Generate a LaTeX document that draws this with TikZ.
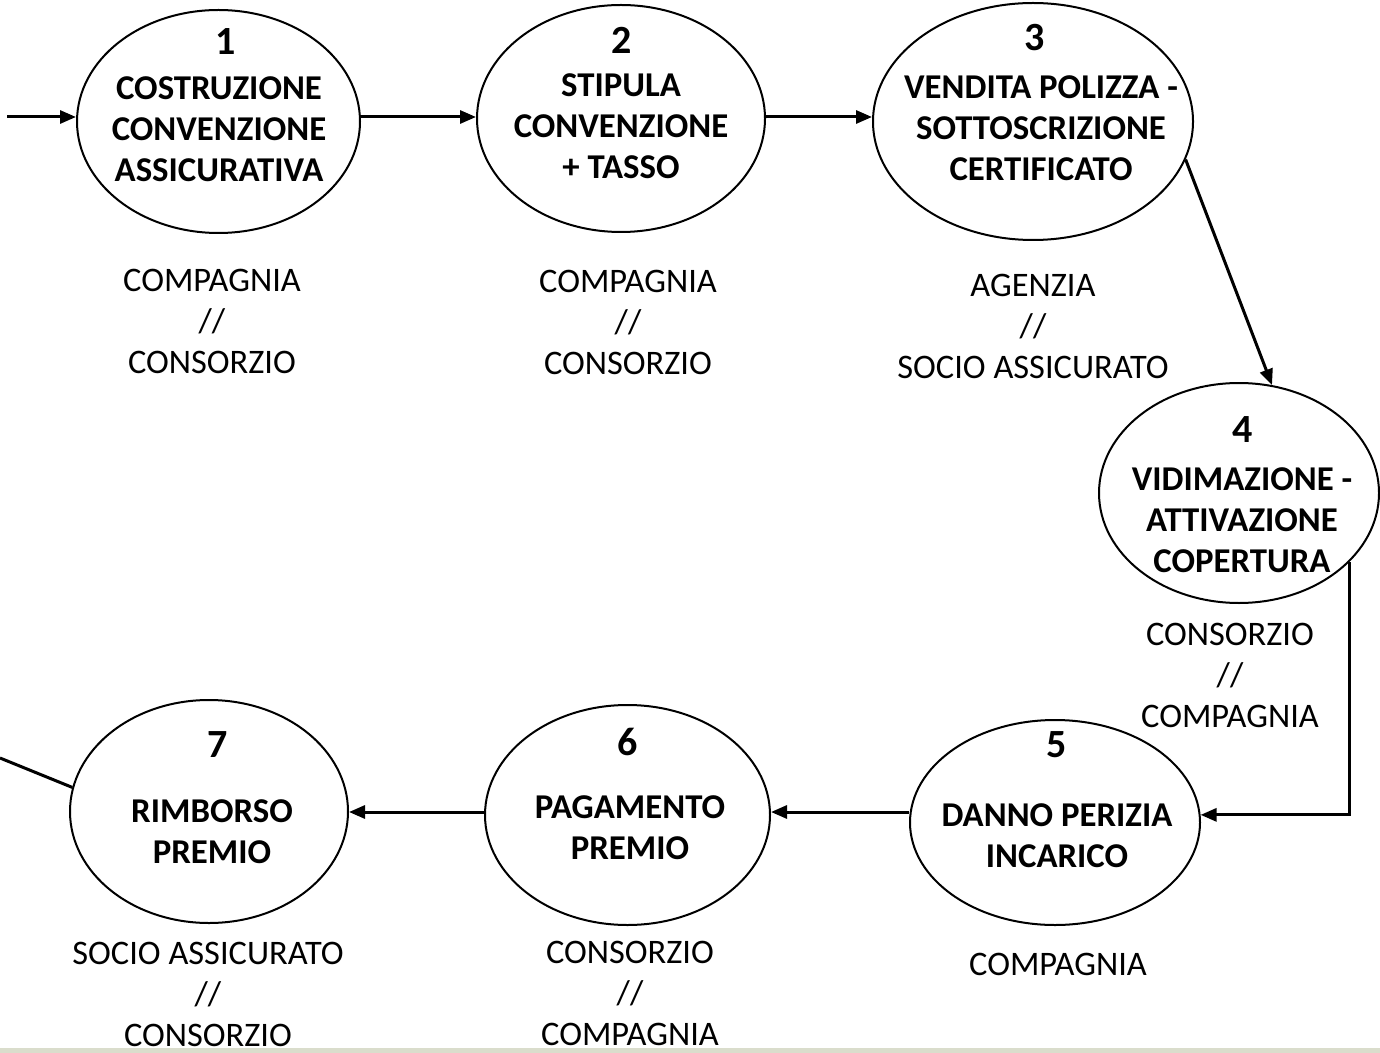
\documentclass[tikz,border=0pt]{standalone}
\usepackage{fontspec}
\setmainfont{Carlito}
\usetikzlibrary{shapes.geometric,arrows.meta,calc}
\definecolor{stripc}{RGB}{218,221,204}
\begin{document}
\begin{tikzpicture}[x=0.5pt,y=-0.5pt,
 proc/.style={ellipse,draw,line width=1pt,inner sep=0pt},
 num/.style={font=\fontsize{20}{24}\selectfont\bfseries,inner sep=0pt},
 title/.style={align=center,font=\fontsize{17.4}{20.5}\selectfont\bfseries,inner sep=0pt},
 actor/.style={align=center,font=\fontsize{17.2}{20.5}\selectfont,inner sep=0pt},
 arr/.style={line width=1.5pt,-{Triangle[length=8pt,width=6.5pt]}},
 link/.style={line width=1.5pt}]
\fill[white] (0,0) rectangle (1380,1053);
\useasboundingbox (0,0) rectangle (1380,1053);
\fill[stripc] (0,1048) rectangle (1380,1053);

% ellipses
\node[proc,minimum width=141.5pt,minimum height=111.5pt] (e1) at (218.5,121.5) {};
\node[proc,minimum width=144pt,minimum height=113.5pt] (e2) at (621,118.5) {};
\node[proc,minimum width=160pt,minimum height=118.5pt] (e3) at (1033,121.5) {};
\node[proc,minimum width=140pt,minimum height=110pt] (e4) at (1239,493) {};
\node[proc,minimum width=145pt,minimum height=102.5pt] (e5) at (1055,822.5) {};
\node[proc,minimum width=142.5pt,minimum height=110pt] (e6) at (627.5,815) {};
\node[proc,minimum width=139pt,minimum height=111.5pt] (e7) at (209,811.5) {};

% numbers
\node[num] (n1) at (226,42) {1};
\node[num] (n2) at (622,40) {2};
\node[num] (n3) at (1035,38) {3};
\node[num] (n4) at (1243,430) {4};
\node[num] (n5) at (1057,745) {5};
\node[num] (n6) at (628,742) {6};
\node[num] (n7) at (218,745) {7};

% titles
\node[title] (t1) at (219,129) {COSTRUZIONE\\CONVENZIONE\\ASSICURATIVA};
\node[title] (t2) at (621,126) {STIPULA\\CONVENZIONE\\+ TASSO};
\node[title] (t3) at (1041,128) {VENDITA POLIZZA -\\SOTTOSCRIZIONE\\CERTIFICATO};
\node[title] (t4) at (1242,520) {VIDIMAZIONE -\\ATTIVAZIONE\\COPERTURA};
\node[title] (t5) at (1057,836) {DANNO PERIZIA\\INCARICO};
\node[title] (t6) at (630,828) {PAGAMENTO\\PREMIO};
\node[title] (t7) at (212,832) {RIMBORSO\\PREMIO};

% actors
\node[actor] (a1) at (212,321) {COMPAGNIA\\//\\CONSORZIO};
\node[actor] (a2) at (628,322) {COMPAGNIA\\//\\CONSORZIO};
\node[actor] (a3) at (1033,326) {AGENZIA\\//\\SOCIO ASSICURATO};
\node[actor] (a4) at (1230,675) {CONSORZIO\\//\\COMPAGNIA};
\node[actor] (a5) at (1058,964) {COMPAGNIA};
\node[actor] (a6) at (630,993) {CONSORZIO\\//\\COMPAGNIA};
\node[actor] (a7) at (208,994) {SOCIO ASSICURATO\\//\\CONSORZIO};

% connectors
\coordinate (in) at (7,117);
\coordinate (out) at (0,758);
\draw[arr] (in) -- (in -| e1.west);
\draw[arr] (e1.east |- 0,117) -- (e2.west |- 0,117);
\draw[arr] (e2.east |- 0,117) -- (e3.west |- 0,117);
\draw[arr] (e3.-14) -- (e4.73);
\draw[arr] (e4.-32) |- (e5.3);
\draw[arr] (e5.west |- 0,812) -- (e6.east |- 0,812);
\draw[arr] (e6.west |- 0,812) -- (e7.east |- 0,812);
\draw[link] (e7.170) -- (out);
\end{tikzpicture}
\end{document}
